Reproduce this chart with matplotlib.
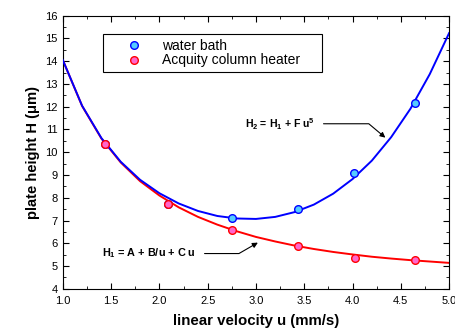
import matplotlib.pyplot as plt
from matplotlib.ticker import MultipleLocator

plt.rcParams['font.family'] = ['Liberation Sans', 'DejaVu Sans']
plt.rcParams['mathtext.fontset'] = 'custom'
plt.rcParams['mathtext.rm'] = 'Liberation Sans:bold'
plt.rcParams['mathtext.default'] = 'rm'

# measured points
u_bath = [1.44, 2.09, 2.75, 3.44, 4.02, 4.65]
h_bath = [10.35, 7.72, 7.11, 7.52, 9.07, 12.14]
u_acq = [1.44, 2.09, 2.75, 3.44, 4.03, 4.65]
h_acq = [10.35, 7.71, 6.60, 5.89, 5.37, 5.27]

# fitted curves
u_fit = [1.0, 1.2, 1.4, 1.6, 1.8, 2.0, 2.2, 2.4, 2.6, 2.8, 3.0,
         3.2, 3.4, 3.6, 3.8, 4.0, 4.2, 4.4, 4.6, 4.8, 5.0]
h1_fit = [14.05, 12.03, 10.60, 9.55, 8.73, 8.10, 7.58, 7.16, 6.82, 6.53, 6.28,
          6.08, 5.90, 5.75, 5.62, 5.51, 5.41, 5.33, 5.26, 5.20, 5.14]
h2_fit = [14.05, 12.04, 10.62, 9.58, 8.79, 8.20, 7.75, 7.42, 7.20, 7.09, 7.07,
          7.16, 7.37, 7.70, 8.18, 8.82, 9.63, 10.66, 11.91, 13.43, 15.23]

fig = plt.figure(figsize=(4.55, 3.32), dpi=100)
ax = fig.add_axes([0.138, 0.130, 0.849, 0.823])

ax.plot(u_fit, h1_fit, color='#ff0000', lw=1.4, zorder=2)
ax.plot(u_fit, h2_fit, color='#0000ff', lw=1.4, zorder=3)
ax.plot(u_bath, h_bath, 'o', ms=5.5, mfc='#55ccff', mec='#0000ff', mew=1,
        label='water bath', zorder=4)
ax.plot(u_acq, h_acq, 'o', ms=5.5, mfc='#ff66cc', mec='#ff0000', mew=1,
        label='Acquity column heater', zorder=5)

ax.set_xlim(1.0, 5.0)
ax.set_ylim(4, 16)
ax.xaxis.set_major_locator(MultipleLocator(0.5))
ax.xaxis.set_minor_locator(MultipleLocator(0.25))
ax.yaxis.set_major_locator(MultipleLocator(1))
ax.yaxis.set_minor_locator(MultipleLocator(0.5))
ax.xaxis.set_major_formatter(plt.FormatStrFormatter('%.1f'))
ax.tick_params(which='both', direction='in', top=True, right=True, labelsize=8)
ax.tick_params(which='major', length=4)
ax.tick_params(which='minor', length=2)
ax.tick_params(axis='x', pad=5)

ax.set_xlabel('linear velocity u (mm/s)', fontsize=10.8, fontweight='bold', labelpad=6)
ax.set_ylabel('plate height H (\u03bcm)', fontsize=10.6, fontweight='bold', labelpad=4)

ax.annotate(r'H$_2$ = H$_1$ + F u$^5$', xy=(4.34, 10.64), xytext=(2.89, 11.25),
            fontsize=7.6, fontweight='bold', va='center',
            arrowprops=dict(arrowstyle='-|>', color='black', lw=0.8,
                            connectionstyle='angle,angleA=0,angleB=140,rad=0',
                            shrinkA=4, shrinkB=0))
ax.annotate(r'H$_1$ = A + B/u + C u', xy=(3.02, 6.03), xytext=(1.41, 5.55),
            fontsize=7.8, fontweight='bold', va='center',
            arrowprops=dict(arrowstyle='-|>', color='black', lw=0.8,
                            connectionstyle='angle,angleA=0,angleB=210,rad=0',
                            shrinkA=4, shrinkB=0))

leg = ax.legend(loc='upper left', bbox_to_anchor=(0.103, 0.801, 0.567, 0.132),
                mode='expand', fontsize=10, fancybox=False, framealpha=1,
                edgecolor='black', handletextpad=0.1, borderpad=0.35,
                labelspacing=0.05, borderaxespad=0, handlelength=3.8)
leg.get_frame().set_linewidth(0.8)

fig.savefig('out.png', dpi=100)
